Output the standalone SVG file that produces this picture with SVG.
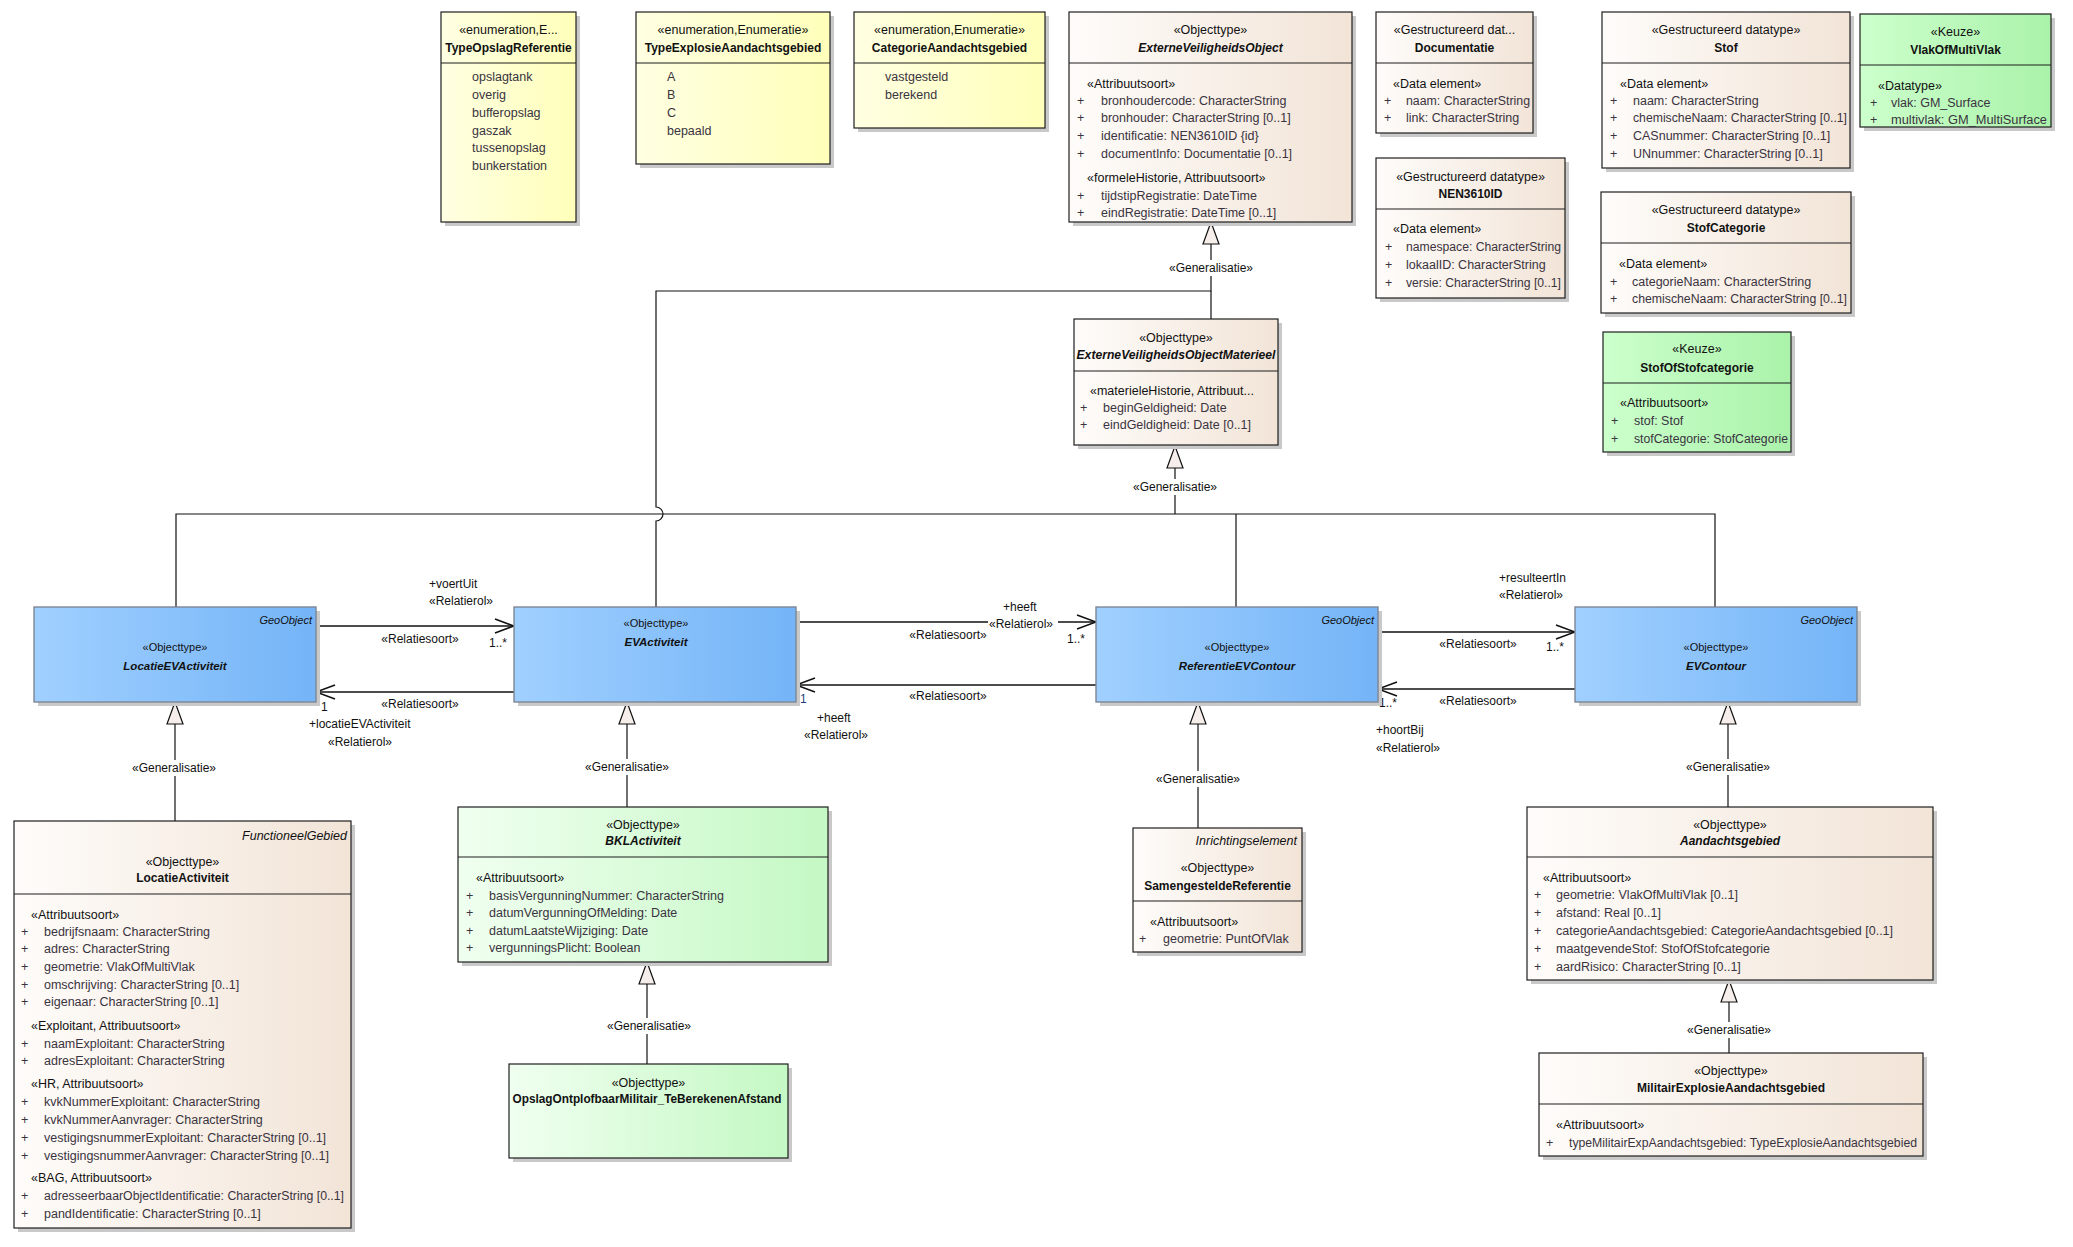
<svg xmlns="http://www.w3.org/2000/svg" width="2073" height="1247" viewBox="0 0 2073 1247">
<style>
text{font-family:"Liberation Sans",Arial,sans-serif;font-size:12.5px;fill:#111}
.c{text-anchor:middle}
.e{text-anchor:end}
.b{font-weight:bold;font-size:12px}
.bi{font-weight:bold;font-style:italic;font-size:12px}
.i{font-style:italic}
.a{fill:#3a3340}
.s{font-size:11px}
.l{font-size:12px}
.box{stroke:#1e1e1e;stroke-width:1.2}
.bbox{stroke:#7d8794;stroke-width:1.4}
.sh{fill:#c9c9c9}
.dv{stroke:#1e1e1e;stroke-width:1.2}
.ln{fill:none;stroke:#111;stroke-width:1.2}
.as{fill:none;stroke:#111;stroke-width:1.6}
.gl{fill:#fff}
</style>
<defs>
<linearGradient id="gY" x1="0" x2="1" y1="0" y2="0"><stop offset="0" stop-color="#FFFFE2"/><stop offset="1" stop-color="#FFFFBA"/></linearGradient>
<linearGradient id="gB" x1="0" x2="1" y1="0" y2="0"><stop offset="0" stop-color="#FEFCFA"/><stop offset="1" stop-color="#F2E4D7"/></linearGradient>
<linearGradient id="gG" x1="0" x2="1" y1="0" y2="0"><stop offset="0" stop-color="#F0FFF0"/><stop offset="1" stop-color="#C4F8C4"/></linearGradient>
<linearGradient id="gK" x1="0" x2="1" y1="0" y2="0"><stop offset="0" stop-color="#CCFFCC"/><stop offset="1" stop-color="#AAF2AA"/></linearGradient>
<linearGradient id="gL" x1="0" x2="1" y1="0" y2="0"><stop offset="0" stop-color="#A0D0FF"/><stop offset="1" stop-color="#74B4F7"/></linearGradient>
<marker id="open" viewBox="0 0 20 16" refX="20" refY="8" markerWidth="20" markerHeight="16" markerUnits="userSpaceOnUse" orient="auto"><path d="M1,1 L20,8 L1,15" fill="none" stroke="#111" stroke-width="1.6"/></marker>
<marker id="gen" viewBox="0 0 24 18" refX="23" refY="9" markerWidth="24" markerHeight="18" markerUnits="userSpaceOnUse" orient="auto"><path d="M1,1 L23,9 L1,17 Z" fill="#F6EEEA" stroke="#111" stroke-width="1.2"/></marker>
</defs>
<rect width="2073" height="1247" fill="#fff"/>

<g id="connectors">
<path class="ln" d="M656,607 V521 A7,7 0 0 0 656,507 V291 H1211 V222" marker-end="url(#gen)"/>
<path class="ln" d="M1211,319 V291"/>
<path class="ln" d="M1175,514 V446" marker-end="url(#gen)"/>
<path class="ln" d="M176,607 V514 H1715 V607 M1236,514 V607"/>
<path class="ln" d="M175,821 V702" marker-end="url(#gen)"/>
<path class="ln" d="M627,807 V702" marker-end="url(#gen)"/>
<path class="ln" d="M1198,828 V702" marker-end="url(#gen)"/>
<path class="ln" d="M1728,807 V702" marker-end="url(#gen)"/>
<path class="ln" d="M647,1064 V962" marker-end="url(#gen)"/>
<path class="ln" d="M1729,1053 V980" marker-end="url(#gen)"/>
<rect class="gl" x="1168" y="260" width="86" height="16"/><text class="c l" x="1211" y="272">«Generalisatie»</text>
<rect class="gl" x="1132" y="479" width="86" height="16"/><text class="c l" x="1175" y="491">«Generalisatie»</text>
<rect class="gl" x="131" y="760" width="86" height="16"/><text class="c l" x="174" y="772">«Generalisatie»</text>
<rect class="gl" x="584" y="759" width="86" height="16"/><text class="c l" x="627" y="771">«Generalisatie»</text>
<rect class="gl" x="1155" y="771" width="86" height="16"/><text class="c l" x="1198" y="783">«Generalisatie»</text>
<rect class="gl" x="1685" y="759" width="86" height="16"/><text class="c l" x="1728" y="771">«Generalisatie»</text>
<rect class="gl" x="606" y="1018" width="86" height="16"/><text class="c l" x="649" y="1030">«Generalisatie»</text>
<rect class="gl" x="1686" y="1022" width="86" height="16"/><text class="c l" x="1729" y="1034">«Generalisatie»</text>

<path class="as" d="M316,626 H514" marker-end="url(#open)"/>
<path class="as" d="M514,692 H316" marker-end="url(#open)"/>
<path class="as" d="M796,622 H1096" marker-end="url(#open)"/>
<path class="as" d="M1096,685 H796" marker-end="url(#open)"/>
<path class="as" d="M1378,632 H1575" marker-end="url(#open)"/>
<path class="as" d="M1575,689 H1378" marker-end="url(#open)"/>

<text class="l" x="429" y="588">+voertUit</text>
<text class="l" x="429" y="605">«Relatierol»</text>
<text class="c l" x="420" y="643">«Relatiesoort»</text>
<text class="l" x="489" y="647">1..*</text>
<text class="c l" x="420" y="708">«Relatiesoort»</text>
<text class="l" x="321" y="711">1</text>
<text class="l" x="309" y="728">+locatieEVActiviteit</text>
<text class="l" x="328" y="746">«Relatierol»</text>

<text class="l" x="1003" y="611">+heeft</text>
<rect class="gl" x="988" y="616" width="70" height="15"/>
<text class="l" x="989" y="628">«Relatierol»</text>
<text class="c l" x="948" y="639">«Relatiesoort»</text>
<text class="l" x="1067" y="643">1..*</text>
<text class="c l" x="948" y="700">«Relatiesoort»</text>
<text class="l" x="800" y="703" style="fill:#1d3f7a">1</text>
<text class="l" x="817" y="722">+heeft</text>
<text class="l" x="804" y="739">«Relatierol»</text>

<text class="l" x="1499" y="582">+resulteertIn</text>
<text class="l" x="1499" y="599">«Relatierol»</text>
<text class="c l" x="1478" y="648">«Relatiesoort»</text>
<text class="l" x="1546" y="651">1..*</text>
<text class="c l" x="1478" y="705">«Relatiesoort»</text>
<text class="l" x="1379" y="707">1..*</text>
<text class="l" x="1376" y="734">+hoortBij</text>
<text class="l" x="1376" y="752">«Relatierol»</text>
</g>

<g id="TypeOpslagReferentie">
<rect class="sh" x="445" y="16" width="135" height="210"/>
<rect class="box" x="441" y="12" width="135" height="210" fill="url(#gY)"/>
<line class="dv" x1="441" y1="63" x2="576" y2="63"/>
<text class="c" x="508.5" y="33.5">«enumeration,E...</text>
<text class="c b" x="508.5" y="51.5">TypeOpslagReferentie</text>
<text class="a" x="472" y="81">opslagtank</text>
<text class="a" x="472" y="99">overig</text>
<text class="a" x="472" y="117">bufferopslag</text>
<text class="a" x="472" y="134.5">gaszak</text>
<text class="a" x="472" y="152">tussenopslag</text>
<text class="a" x="472" y="170">bunkerstation</text>
</g>

<g id="TypeExplosieAandachtsgebied">
<rect class="sh" x="640" y="16" width="194" height="152"/>
<rect class="box" x="636" y="12" width="194" height="152" fill="url(#gY)"/>
<line class="dv" x1="636" y1="63" x2="830" y2="63"/>
<text class="c" x="733" y="33.5">«enumeration,Enumeratie»</text>
<text class="c b" x="733" y="51.5">TypeExplosieAandachtsgebied</text>
<text class="a" x="667" y="81">A</text>
<text class="a" x="667" y="99">B</text>
<text class="a" x="667" y="117">C</text>
<text class="a" x="667" y="134.5">bepaald</text>
</g>

<g id="CategorieAandachtsgebied">
<rect class="sh" x="858" y="16" width="191" height="116"/>
<rect class="box" x="854" y="12" width="191" height="116" fill="url(#gY)"/>
<line class="dv" x1="854" y1="63" x2="1045" y2="63"/>
<text class="c" x="949.5" y="33.5">«enumeration,Enumeratie»</text>
<text class="c b" x="949.5" y="51.5">CategorieAandachtsgebied</text>
<text class="a" x="885" y="81">vastgesteld</text>
<text class="a" x="885" y="99">berekend</text>
</g>

<g id="ExterneVeiligheidsObject">
<rect class="sh" x="1073" y="16" width="283" height="210"/>
<rect class="box" x="1069" y="12" width="283" height="210" fill="url(#gB)"/>
<line class="dv" x1="1069" y1="63" x2="1352" y2="63"/>
<text class="c" x="1210.5" y="33.5">«Objecttype»</text>
<text class="c bi" x="1210.5" y="51.5">ExterneVeiligheidsObject</text>
<text x="1087" y="87.5">«Attribuutsoort»</text>
<text class="a" x="1077" y="104.5">+</text><text class="a" x="1101" y="104.5">bronhoudercode: CharacterString</text>
<text class="a" x="1077" y="122">+</text><text class="a" x="1101" y="122">bronhouder: CharacterString [0..1]</text>
<text class="a" x="1077" y="140">+</text><text class="a" x="1101" y="140">identificatie: NEN3610ID {id}</text>
<text class="a" x="1077" y="157.5">+</text><text class="a" x="1101" y="157.5">documentInfo: Documentatie [0..1]</text>
<text x="1087" y="181.5">«formeleHistorie, Attribuutsoort»</text>
<text class="a" x="1077" y="199.5">+</text><text class="a" x="1101" y="199.5">tijdstipRegistratie: DateTime</text>
<text class="a" x="1077" y="216.5">+</text><text class="a" x="1101" y="216.5">eindRegistratie: DateTime [0..1]</text>
</g>

<g id="Documentatie">
<rect class="sh" x="1380" y="16" width="157" height="121"/>
<rect class="box" x="1376" y="12" width="157" height="121" fill="url(#gB)"/>
<line class="dv" x1="1376" y1="63" x2="1533" y2="63"/>
<text class="c" x="1454.5" y="33.5">«Gestructureerd dat...</text>
<text class="c b" x="1454.5" y="51.5">Documentatie</text>
<text x="1393" y="87.5">«Data element»</text>
<text class="a" x="1384" y="104.5">+</text><text class="a" x="1406" y="104.5" textLength="124" lengthAdjust="spacingAndGlyphs">naam: CharacterString</text>
<text class="a" x="1384" y="122">+</text><text class="a" x="1406" y="122">link: CharacterString</text>
</g>

<g id="Stof">
<rect class="sh" x="1606" y="16" width="248" height="156"/>
<rect class="box" x="1602" y="12" width="248" height="156" fill="url(#gB)"/>
<line class="dv" x1="1602" y1="63" x2="1850" y2="63"/>
<text class="c" x="1726" y="33.5">«Gestructureerd datatype»</text>
<text class="c b" x="1726" y="51.5">Stof</text>
<text x="1620" y="87.5">«Data element»</text>
<text class="a" x="1610" y="104.5">+</text><text class="a" x="1633" y="104.5">naam: CharacterString</text>
<text class="a" x="1610" y="122">+</text><text class="a" x="1633" y="122" textLength="214" lengthAdjust="spacingAndGlyphs">chemischeNaam: CharacterString [0..1]</text>
<text class="a" x="1610" y="140">+</text><text class="a" x="1633" y="140">CASnummer: CharacterString [0..1]</text>
<text class="a" x="1610" y="157.5">+</text><text class="a" x="1633" y="157.5">UNnummer: CharacterString [0..1]</text>
</g>

<g id="VlakOfMultiVlak">
<rect class="sh" x="1864" y="18" width="191" height="113"/>
<rect class="box" x="1860" y="14" width="191" height="113" fill="url(#gK)"/>
<line class="dv" x1="1860" y1="65" x2="2051" y2="65"/>
<text class="c" x="1955.5" y="35.5">«Keuze»</text>
<text class="c b" x="1955.5" y="53.5">VlakOfMultiVlak</text>
<text x="1878" y="89.5">«Datatype»</text>
<text class="a" x="1870" y="106.5">+</text><text class="a" x="1891" y="106.5">vlak: GM_Surface</text>
<text class="a" x="1870" y="123.5">+</text><text class="a" x="1891" y="123.5" textLength="156" lengthAdjust="spacingAndGlyphs">multivlak: GM_MultiSurface</text>
</g>

<g id="NEN3610ID">
<rect class="sh" x="1380" y="162" width="189" height="140"/>
<rect class="box" x="1376" y="158" width="189" height="140" fill="url(#gB)"/>
<line class="dv" x1="1376" y1="209" x2="1565" y2="209"/>
<text class="c" x="1470.5" y="180.5">«Gestructureerd datatype»</text>
<text class="c b" x="1470.5" y="197.5">NEN3610ID</text>
<text x="1393" y="232.5">«Data element»</text>
<text class="a" x="1385" y="250.5">+</text><text class="a" x="1406" y="250.5" textLength="155" lengthAdjust="spacingAndGlyphs">namespace: CharacterString</text>
<text class="a" x="1385" y="268.5">+</text><text class="a" x="1406" y="268.5">lokaalID: CharacterString</text>
<text class="a" x="1385" y="286.5">+</text><text class="a" x="1406" y="286.5" textLength="155" lengthAdjust="spacingAndGlyphs">versie: CharacterString [0..1]</text>
</g>

<g id="StofCategorie">
<rect class="sh" x="1605" y="196" width="250" height="121"/>
<rect class="box" x="1601" y="192" width="250" height="121" fill="url(#gB)"/>
<line class="dv" x1="1601" y1="243" x2="1851" y2="243"/>
<text class="c" x="1726" y="213.5">«Gestructureerd datatype»</text>
<text class="c b" x="1726" y="231.5">StofCategorie</text>
<text x="1619" y="267.5">«Data element»</text>
<text class="a" x="1610" y="285.5">+</text><text class="a" x="1632" y="285.5">categorieNaam: CharacterString</text>
<text class="a" x="1610" y="302.5">+</text><text class="a" x="1632" y="302.5" textLength="215" lengthAdjust="spacingAndGlyphs">chemischeNaam: CharacterString [0..1]</text>
</g>

<g id="StofOfStofcategorie">
<rect class="sh" x="1607" y="336" width="188" height="120"/>
<rect class="box" x="1603" y="332" width="188" height="120" fill="url(#gK)"/>
<line class="dv" x1="1603" y1="383" x2="1791" y2="383"/>
<text class="c" x="1697" y="352.5">«Keuze»</text>
<text class="c b" x="1697" y="371.5">StofOfStofcategorie</text>
<text x="1620" y="406.5">«Attribuutsoort»</text>
<text class="a" x="1611" y="424.5">+</text><text class="a" x="1634" y="424.5">stof: Stof</text>
<text class="a" x="1611" y="442.5">+</text><text class="a" x="1634" y="442.5" textLength="154" lengthAdjust="spacingAndGlyphs">stofCategorie: StofCategorie</text>
</g>

<g id="ExterneVeiligheidsObjectMaterieel">
<rect class="sh" x="1078" y="323" width="204" height="126"/>
<rect class="box" x="1074" y="319" width="204" height="126" fill="url(#gB)"/>
<line class="dv" x1="1074" y1="371" x2="1278" y2="371"/>
<text class="c" x="1176" y="341.5">«Objecttype»</text>
<text class="c bi" x="1176" y="358.5" textLength="199" lengthAdjust="spacingAndGlyphs">ExterneVeiligheidsObjectMaterieel</text>
<text x="1090" y="394.5">«materieleHistorie, Attribuut...</text>
<text class="a" x="1080" y="411.5">+</text><text class="a" x="1103" y="411.5">beginGeldigheid: Date</text>
<text class="a" x="1080" y="428.5">+</text><text class="a" x="1103" y="428.5">eindGeldigheid: Date [0..1]</text>
</g>

<g id="LocatieEVActiviteit">
<rect class="sh" x="38" y="611" width="282" height="95"/>
<rect class="bbox" x="34" y="607" width="282" height="95" fill="url(#gL)"/>
<text class="e i s" x="312" y="624">GeoObject</text>
<text class="c s" x="175" y="651">«Objecttype»</text>
<text class="c bi" x="175" y="670" style="font-size:11.5px">LocatieEVActiviteit</text>
</g>

<g id="EVActiviteit">
<rect class="sh" x="518" y="611" width="282" height="95"/>
<rect class="bbox" x="514" y="607" width="282" height="95" fill="url(#gL)"/>
<text class="c s" x="656" y="627">«Objecttype»</text>
<text class="c bi" x="656" y="646" style="font-size:11.5px">EVActiviteit</text>
</g>

<g id="ReferentieEVContour">
<rect class="sh" x="1100" y="611" width="282" height="95"/>
<rect class="bbox" x="1096" y="607" width="282" height="95" fill="url(#gL)"/>
<text class="e i s" x="1374" y="624">GeoObject</text>
<text class="c s" x="1237" y="651">«Objecttype»</text>
<text class="c bi" x="1237" y="670" style="font-size:11.5px">ReferentieEVContour</text>
</g>

<g id="EVContour">
<rect class="sh" x="1579" y="611" width="282" height="95"/>
<rect class="bbox" x="1575" y="607" width="282" height="95" fill="url(#gL)"/>
<text class="e i s" x="1853" y="624">GeoObject</text>
<text class="c s" x="1716" y="651">«Objecttype»</text>
<text class="c bi" x="1716" y="670" style="font-size:11.5px">EVContour</text>
</g>

<g id="LocatieActiviteit">
<rect class="sh" x="18" y="825" width="337" height="407"/>
<rect class="box" x="14" y="821" width="337" height="407" fill="url(#gB)"/>
<line class="dv" x1="14" y1="894" x2="351" y2="894"/>
<text class="e i" x="347" y="839.5">FunctioneelGebied</text>
<text class="c" x="182.5" y="865.5">«Objecttype»</text>
<text class="c b" x="182.5" y="881.5">LocatieActiviteit</text>
<text x="31" y="918.5">«Attribuutsoort»</text>
<text class="a" x="21" y="935.5">+</text><text class="a" x="44" y="935.5">bedrijfsnaam: CharacterString</text>
<text class="a" x="21" y="953">+</text><text class="a" x="44" y="953">adres: CharacterString</text>
<text class="a" x="21" y="971">+</text><text class="a" x="44" y="971">geometrie: VlakOfMultiVlak</text>
<text class="a" x="21" y="988.5">+</text><text class="a" x="44" y="988.5">omschrijving: CharacterString [0..1]</text>
<text class="a" x="21" y="1006">+</text><text class="a" x="44" y="1006">eigenaar: CharacterString [0..1]</text>
<text x="31" y="1030">«Exploitant, Attribuutsoort»</text>
<text class="a" x="21" y="1048">+</text><text class="a" x="44" y="1048">naamExploitant: CharacterString</text>
<text class="a" x="21" y="1065">+</text><text class="a" x="44" y="1065">adresExploitant: CharacterString</text>
<text x="31" y="1088">«HR, Attribuutsoort»</text>
<text class="a" x="21" y="1105.5">+</text><text class="a" x="44" y="1105.5">kvkNummerExploitant: CharacterString</text>
<text class="a" x="21" y="1123.5">+</text><text class="a" x="44" y="1123.5">kvkNummerAanvrager: CharacterString</text>
<text class="a" x="21" y="1141.5">+</text><text class="a" x="44" y="1141.5">vestigingsnummerExploitant: CharacterString [0..1]</text>
<text class="a" x="21" y="1159.5">+</text><text class="a" x="44" y="1159.5">vestigingsnummerAanvrager: CharacterString [0..1]</text>
<text x="31" y="1182">«BAG, Attribuutsoort»</text>
<text class="a" x="21" y="1199.5">+</text><text class="a" x="44" y="1199.5" textLength="300" lengthAdjust="spacingAndGlyphs">adresseerbaarObjectIdentificatie: CharacterString [0..1]</text>
<text class="a" x="21" y="1217.5">+</text><text class="a" x="44" y="1217.5">pandIdentificatie: CharacterString [0..1]</text>
</g>

<g id="BKLActiviteit">
<rect class="sh" x="462" y="811" width="370" height="155"/>
<rect class="box" x="458" y="807" width="370" height="155" fill="url(#gG)"/>
<line class="dv" x1="458" y1="857" x2="828" y2="857"/>
<text class="c" x="643" y="828.5">«Objecttype»</text>
<text class="c bi" x="643" y="844.5">BKLActiviteit</text>
<text x="476" y="881.5">«Attribuutsoort»</text>
<text class="a" x="466" y="899.5">+</text><text class="a" x="489" y="899.5">basisVergunningNummer: CharacterString</text>
<text class="a" x="466" y="916.5">+</text><text class="a" x="489" y="916.5">datumVergunningOfMelding: Date</text>
<text class="a" x="466" y="934.5">+</text><text class="a" x="489" y="934.5">datumLaatsteWijziging: Date</text>
<text class="a" x="466" y="952">+</text><text class="a" x="489" y="952">vergunningsPlicht: Boolean</text>
</g>

<g id="OpslagOntplofbaarMilitair_TeBerekenenAfstand">
<rect class="sh" x="513" y="1068" width="279" height="94"/>
<rect class="box" x="509" y="1064" width="279" height="94" fill="url(#gG)"/>
<text class="c" x="648.5" y="1086.5">«Objecttype»</text>
<text class="c b" x="647" y="1102.5" textLength="269" lengthAdjust="spacingAndGlyphs">OpslagOntplofbaarMilitair_TeBerekenenAfstand</text>
</g>

<g id="SamengesteldeReferentie">
<rect class="sh" x="1137" y="832" width="169" height="124"/>
<rect class="box" x="1133" y="828" width="169" height="124" fill="url(#gB)"/>
<line class="dv" x1="1133" y1="901" x2="1302" y2="901"/>
<text class="e i" x="1297" y="844.5">Inrichtingselement</text>
<text class="c" x="1217.5" y="871.5">«Objecttype»</text>
<text class="c b" x="1217.5" y="889.5">SamengesteldeReferentie</text>
<text x="1150" y="925.5">«Attribuutsoort»</text>
<text class="a" x="1139" y="942.5">+</text><text class="a" x="1163" y="942.5">geometrie: PuntOfVlak</text>
</g>

<g id="Aandachtsgebied">
<rect class="sh" x="1531" y="811" width="406" height="173"/>
<rect class="box" x="1527" y="807" width="406" height="173" fill="url(#gB)"/>
<line class="dv" x1="1527" y1="857" x2="1933" y2="857"/>
<text class="c" x="1730" y="828.5">«Objecttype»</text>
<text class="c bi" x="1730" y="844.5">Aandachtsgebied</text>
<text x="1543" y="881.5">«Attribuutsoort»</text>
<text class="a" x="1534" y="899">+</text><text class="a" x="1556" y="899">geometrie: VlakOfMultiVlak [0..1]</text>
<text class="a" x="1534" y="916.5">+</text><text class="a" x="1556" y="916.5">afstand: Real [0..1]</text>
<text class="a" x="1534" y="934.5">+</text><text class="a" x="1556" y="934.5">categorieAandachtsgebied: CategorieAandachtsgebied [0..1]</text>
<text class="a" x="1534" y="952.5">+</text><text class="a" x="1556" y="952.5">maatgevendeStof: StofOfStofcategorie</text>
<text class="a" x="1534" y="970.5">+</text><text class="a" x="1556" y="970.5">aardRisico: CharacterString [0..1]</text>
</g>

<g id="MilitairExplosieAandachtsgebied">
<rect class="sh" x="1543" y="1057" width="384" height="103"/>
<rect class="box" x="1539" y="1053" width="384" height="103" fill="url(#gB)"/>
<line class="dv" x1="1539" y1="1104" x2="1923" y2="1104"/>
<text class="c" x="1731" y="1075">«Objecttype»</text>
<text class="c b" x="1731" y="1092">MilitairExplosieAandachtsgebied</text>
<text x="1556" y="1128.5">«Attribuutsoort»</text>
<text class="a" x="1546" y="1146.5">+</text><text class="a" x="1569" y="1146.5" textLength="348" lengthAdjust="spacingAndGlyphs">typeMilitairExpAandachtsgebied: TypeExplosieAandachtsgebied</text>
</g>
</svg>
